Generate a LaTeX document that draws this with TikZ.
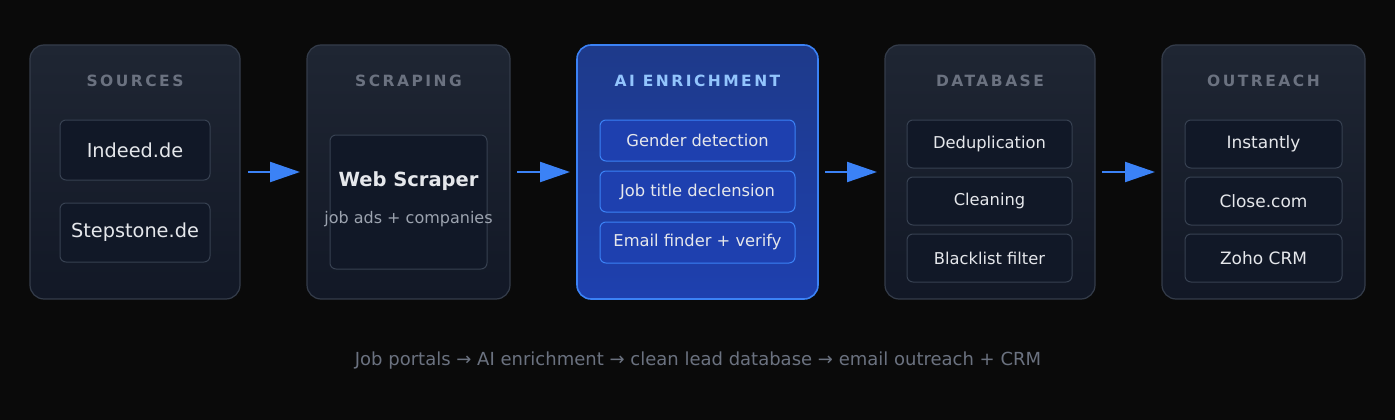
\documentclass[tikz,border=0pt]{standalone}
\usepackage{fontspec}
\usetikzlibrary{arrows.meta}
\setmainfont{DejaVu Sans}
\definecolor{bg}{HTML}{0A0A0A}
\definecolor{otop}{HTML}{1F2633}
\definecolor{obot}{HTML}{121826}
\definecolor{oline}{HTML}{343C4A}
\definecolor{ifill}{HTML}{111827}
\definecolor{iline}{HTML}{374151}
\definecolor{head}{HTML}{6B7280}
\definecolor{txt}{HTML}{E5E7EB}
\definecolor{aitop}{HTML}{1E3A8A}
\definecolor{aibot}{HTML}{1E40AF}
\definecolor{aiin}{HTML}{1E40AF}
\definecolor{ailine}{HTML}{3B82F6}
\definecolor{aihead}{HTML}{93C5FD}
\definecolor{arr}{HTML}{3B82F6}
\definecolor{sub}{HTML}{9CA3AF}
\begin{document}
\begin{tikzpicture}[x=1pt,y=-1pt,
 outer/.style={draw=oline,line width=1.2pt,rounded corners=14pt,top color=otop,bottom color=obot},
 aiouter/.style={draw=ailine,line width=1.6pt,rounded corners=14pt,top color=aitop,bottom color=aibot},
 inner/.style={draw=iline,line width=1pt,rounded corners=6pt,fill=ifill},
 aiinner/.style={draw=ailine,line width=1pt,rounded corners=6pt,fill=aiin},
 hd/.style={font=\fontsize{15.5}{17}\selectfont\bfseries\addfontfeature{LetterSpace=16},text=head},
 lbl/.style={font=\fontsize{17}{19}\selectfont,text=txt},
 slbl/.style={font=\fontsize{16.3}{18}\selectfont,text=txt},
 ar/.style={draw=arr,line width=2.2pt,-{Triangle[length=30pt,width=20pt]}}]
\fill[bg] (0,0) rectangle (1395,420);
\useasboundingbox (0,0) rectangle (1395,420);
% boxes
\path[outer] (30,45) rectangle (240,299);
\path[outer] (307,45) rectangle (510,299);
\path[aiouter] (577,45) rectangle (818,299);
\path[outer] (885,45) rectangle (1095,299);
\path[outer] (1162,45) rectangle (1365,299);
\node[hd] (h1) at (135,81) {SOURCES};
\node[hd] (h2) at (408.5,81) {SCRAPING};
\node[hd,text=aihead] (h3) at (697.5,81) {AI ENRICHMENT};
\node[hd] (h4) at (990,81) {DATABASE};
\node[hd] (h5) at (1263.5,81) {OUTREACH};
% sources
\path[inner] (60,120) rectangle (210,180); \node[lbl,font=\fontsize{19.3}{21}\selectfont] (s1) at (135,150) {Indeed.de};
\path[inner] (60,203) rectangle (210,262); \node[lbl,font=\fontsize{19.3}{21}\selectfont] (s2) at (135,232.5) {Stepstone.de};
% scraping
\path[inner] (330,135) rectangle (487,269);
\node[lbl,font=\fontsize{19.5}{21}\selectfont\bfseries] (ws) at (408.5,181) {Web Scraper};
\node[font=\fontsize{16}{18}\selectfont,text=sub] (wss) at (408.5,219) {job ads + companies};
% AI
\path[aiinner] (600,120) rectangle (795,161); \node[slbl] (a1) at (697.5,140.5) {Gender detection};
\path[aiinner] (600,171) rectangle (795,212); \node[slbl] (a2) at (697.5,191.5) {Job title declension};
\path[aiinner] (600,222) rectangle (795,263); \node[slbl] (a3) at (697.5,242.5) {Email finder + verify};
% DB
\path[inner] (907,120) rectangle (1072,168); \node[slbl] (d1) at (989.5,144) {Deduplication};
\path[inner] (907,177) rectangle (1072,225); \node[slbl] (d2) at (989.5,201) {Cleaning};
\path[inner] (907,234) rectangle (1072,282); \node[slbl] (d3) at (989.5,258) {Blacklist filter};
% outreach
\path[inner] (1185,120) rectangle (1342,168); \node[lbl] (o1) at (1263.5,144) {Instantly};
\path[inner] (1185,177) rectangle (1342,225); \node[lbl] (o2) at (1263.5,201) {Close.com};
\path[inner] (1185,234) rectangle (1342,282); \node[lbl] (o3) at (1263.5,258) {Zoho CRM};
% arrows
\coordinate (a1s) at (248,172); \coordinate (a1e) at (300,172);
\coordinate (a2s) at (517,172); \coordinate (a2e) at (570,172);
\coordinate (a3s) at (825,172); \coordinate (a3e) at (877,172);
\coordinate (a4s) at (1102,172); \coordinate (a4e) at (1155,172);
\draw[ar] (a1s) -- (a1e);
\draw[ar] (a2s) -- (a2e);
\draw[ar] (a3s) -- (a3e);
\draw[ar] (a4s) -- (a4e);
\node[font=\fontsize{18}{20}\selectfont,text=head] (cap) at (698,361) {Job portals → AI enrichment → clean lead database → email outreach + CRM};
\end{tikzpicture}
\end{document}
